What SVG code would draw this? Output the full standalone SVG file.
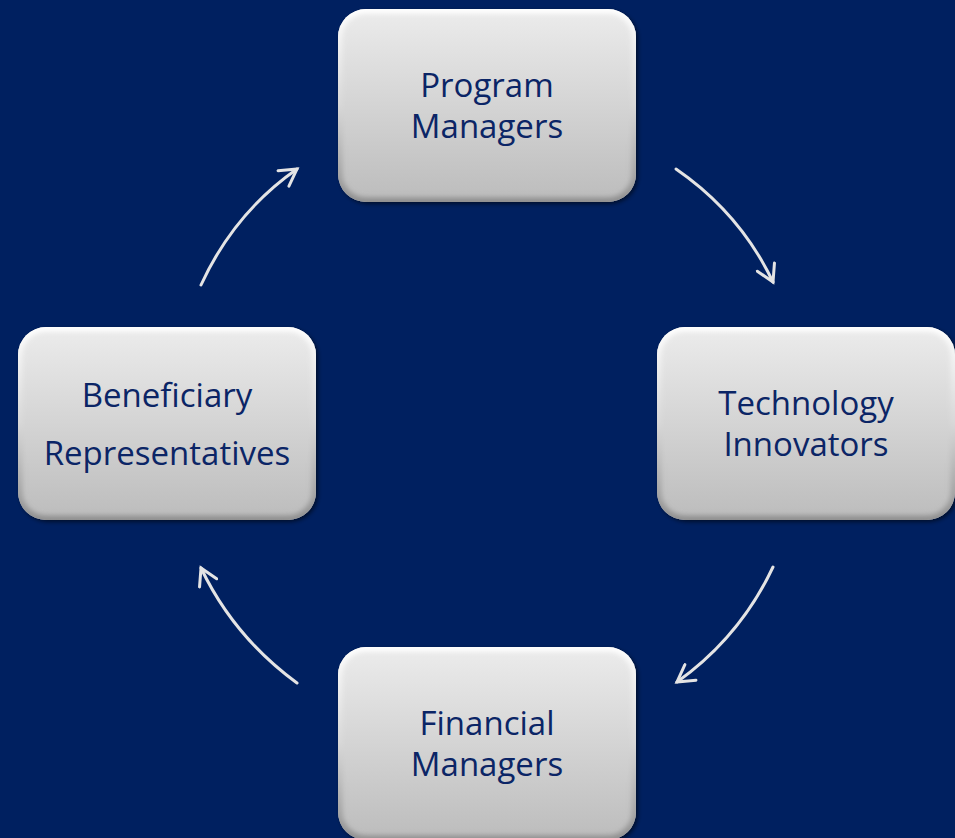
<svg xmlns="http://www.w3.org/2000/svg" xmlns:xlink="http://www.w3.org/1999/xlink" width="955" height="838" viewBox="0 0 955 838">
  <style>
    .lbl { font-family: "Open Sans", "Noto Sans", "Liberation Sans", sans-serif; font-size: 33px; fill: #0b2566; text-anchor: middle; }
    .conn { fill: none; stroke: #e4e4e4; stroke-width: 3; stroke-linecap: round; }
  </style>
  <defs>
    <linearGradient id="boxFill" x1="0" y1="0" x2="0" y2="1">
      <stop offset="0" stop-color="#ececec"/>
      <stop offset="1" stop-color="#bcbcbc"/>
    </linearGradient>
    <linearGradient id="bevel" x1="0" y1="0" x2="0" y2="1">
      <stop offset="0" stop-color="#ffffff"/>
      <stop offset="0.5" stop-color="#d8d8d8"/>
      <stop offset="1" stop-color="#8e8e8e"/>
    </linearGradient>
    <filter id="shadow" x="-10%" y="-10%" width="120%" height="120%">
      <feDropShadow dx="2" dy="2" stdDeviation="2" flood-color="#000000" flood-opacity="0.55"/>
    </filter>
    <filter id="soft" x="-10%" y="-10%" width="120%" height="120%">
      <feGaussianBlur stdDeviation="2.5"/>
    </filter>
    <clipPath id="boxClip" clipPathUnits="userSpaceOnUse">
      <rect x="0" y="0" width="298" height="193" rx="28" ry="28"/>
    </clipPath>
    <g id="box">
      <rect x="0" y="0" width="298" height="193" rx="28" ry="28" fill="url(#boxFill)" filter="url(#shadow)"/>
      <g clip-path="url(#boxClip)">
        <rect x="0" y="0" width="298" height="193" rx="28" ry="28" fill="none" stroke="url(#bevel)" stroke-width="9" filter="url(#soft)"/>
      </g>
    </g>
    <marker id="arrow" markerUnits="userSpaceOnUse" viewBox="0 0 22 22" refX="19" refY="11" markerWidth="22" markerHeight="22" orient="auto">
      <path d="M2.5,1.5 L19,11 L2.5,20.5" fill="none" stroke="#e4e4e4" stroke-width="3" stroke-linecap="round" stroke-linejoin="miter"/>
    </marker>
  </defs>

  <rect x="0" y="0" width="955" height="838" fill="#002060"/>

  <g id="connectors">
    <path class="conn" d="M676,169 Q740,213 773,282" marker-end="url(#arrow)"/>
    <path class="conn" d="M773,567 Q740,637 677,682" marker-end="url(#arrow)"/>
    <path class="conn" d="M297,683 Q234,637 201,568" marker-end="url(#arrow)"/>
    <path class="conn" d="M201,285 Q234,213 297,169" marker-end="url(#arrow)"/>
  </g>

  <g id="program-managers">
    <use xlink:href="#box" transform="translate(338,9)"/>
    <text class="lbl" x="487" y="97">Program</text>
    <text class="lbl" x="487" y="138">Managers</text>
  </g>

  <g id="technology-innovators">
    <use xlink:href="#box" transform="translate(657,327)"/>
    <text class="lbl" x="806" y="415">Technology</text>
    <text class="lbl" x="806" y="456">Innovators</text>
  </g>

  <g id="financial-managers">
    <use xlink:href="#box" transform="translate(338,647)"/>
    <text class="lbl" x="487" y="735">Financial</text>
    <text class="lbl" x="487" y="776">Managers</text>
  </g>

  <g id="beneficiary-representatives">
    <use xlink:href="#box" transform="translate(18,327)"/>
    <text class="lbl" x="167" y="407">Beneficiary</text>
    <text class="lbl" x="167" y="465">Representatives</text>
  </g>
</svg>
